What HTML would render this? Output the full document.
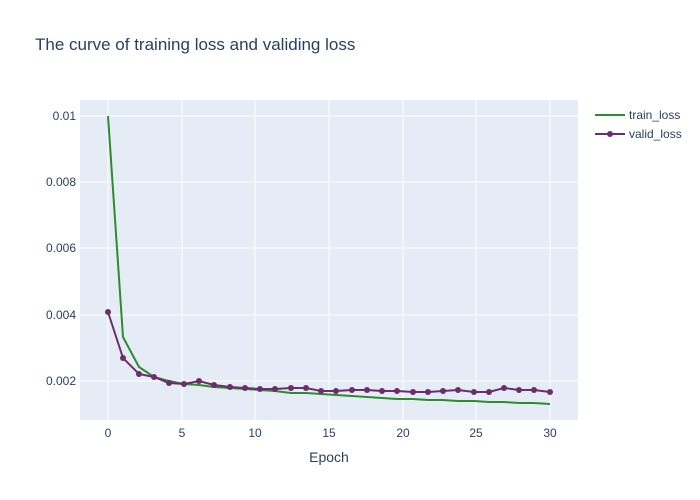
<!DOCTYPE html>
<html><head><meta charset="utf-8"><style>body{margin:0;background:#fff}svg{display:block}text{font-family:"Liberation Sans",sans-serif;fill:#2a3f5f}</style></head>
<body>
<svg width="700" height="500" xmlns="http://www.w3.org/2000/svg">
<rect x="0" y="0" width="700" height="500" fill="#fff"/>
<rect x="80" y="100" width="498" height="320" fill="#e5ecf6"/>
<g stroke="#fff" stroke-width="1">
<line x1="80" x2="578" y1="116" y2="116"/><line x1="80" x2="578" y1="182" y2="182"/><line x1="80" x2="578" y1="248" y2="248"/><line x1="80" x2="578" y1="315" y2="315"/><line x1="80" x2="578" y1="381" y2="381"/>
<line y1="100" y2="420" x1="108" x2="108"/><line y1="100" y2="420" x1="182" x2="182"/><line y1="100" y2="420" x1="255" x2="255"/><line y1="100" y2="420" x1="329" x2="329"/><line y1="100" y2="420" x1="403" x2="403"/><line y1="100" y2="420" x1="476" x2="476"/><line y1="100" y2="420" x1="550" x2="550"/>
</g>
<g font-size="12" text-anchor="end">
<text x="76" y="120">0.01</text><text x="76" y="186">0.008</text><text x="76" y="252">0.006</text><text x="76" y="319">0.004</text><text x="76" y="385">0.002</text>
</g>
<g font-size="12" text-anchor="middle">
<text x="108" y="437">0</text><text x="182" y="437">5</text><text x="255" y="437">10</text><text x="329" y="437">15</text><text x="403" y="437">20</text><text x="476" y="437">25</text><text x="550" y="437">30</text>
</g>
<text x="329" y="462" font-size="14" text-anchor="middle">Epoch</text>
<text x="35" y="50" font-size="17">The curve of training loss and validing loss</text>
<polyline fill="none" stroke="#2e8b2e" stroke-width="2" points="108,116 123,337 139,367 154,377 169,381 184,384 199,385 214,387 230,388 245,389 260,390 275,391 291,393 306,393 321,394 336,395 352,396 367,397 382,398 397,399 413,399 428,400 443,400 458,401 474,401 489,402 504,402 519,403 534,403 550,404"/>
<g id="v">
<polyline fill="none" stroke="#6b2d6b" stroke-width="2" points="108,312 123,358 139,374 154,377 169,383 184,384 199,381 214,385 230,387 245,388 260,389 275,389 291,388 306,388 321,391 336,391 352,390 367,390 382,391 397,391 413,392 428,392 443,391 458,390 474,392 489,392 504,388 519,390 534,390 550,392"/>
<g fill="#6b2d6b">
<circle cx="108" cy="312" r="3"/><circle cx="123" cy="358" r="3"/><circle cx="139" cy="374" r="3"/><circle cx="154" cy="377" r="3"/><circle cx="169" cy="383" r="3"/><circle cx="184" cy="384" r="3"/><circle cx="199" cy="381" r="3"/><circle cx="214" cy="385" r="3"/><circle cx="230" cy="387" r="3"/><circle cx="245" cy="388" r="3"/><circle cx="260" cy="389" r="3"/><circle cx="275" cy="389" r="3"/><circle cx="291" cy="388" r="3"/><circle cx="306" cy="388" r="3"/><circle cx="321" cy="391" r="3"/><circle cx="336" cy="391" r="3"/><circle cx="352" cy="390" r="3"/><circle cx="367" cy="390" r="3"/><circle cx="382" cy="391" r="3"/><circle cx="397" cy="391" r="3"/><circle cx="413" cy="392" r="3"/><circle cx="428" cy="392" r="3"/><circle cx="443" cy="391" r="3"/><circle cx="458" cy="390" r="3"/><circle cx="474" cy="392" r="3"/><circle cx="489" cy="392" r="3"/><circle cx="504" cy="388" r="3"/><circle cx="519" cy="390" r="3"/><circle cx="534" cy="390" r="3"/><circle cx="550" cy="392" r="3"/>
</g></g>
<line x1="595" x2="625" y1="115" y2="115" stroke="#2e8b2e" stroke-width="2"/>
<text x="629" y="119" font-size="12">train_loss</text>
<line x1="595" x2="625" y1="134" y2="134" stroke="#6b2d6b" stroke-width="2"/>
<circle cx="610" cy="134" r="3" fill="#6b2d6b"/>
<text x="629" y="138" font-size="12">valid_loss</text>
</svg>
</body></html>
